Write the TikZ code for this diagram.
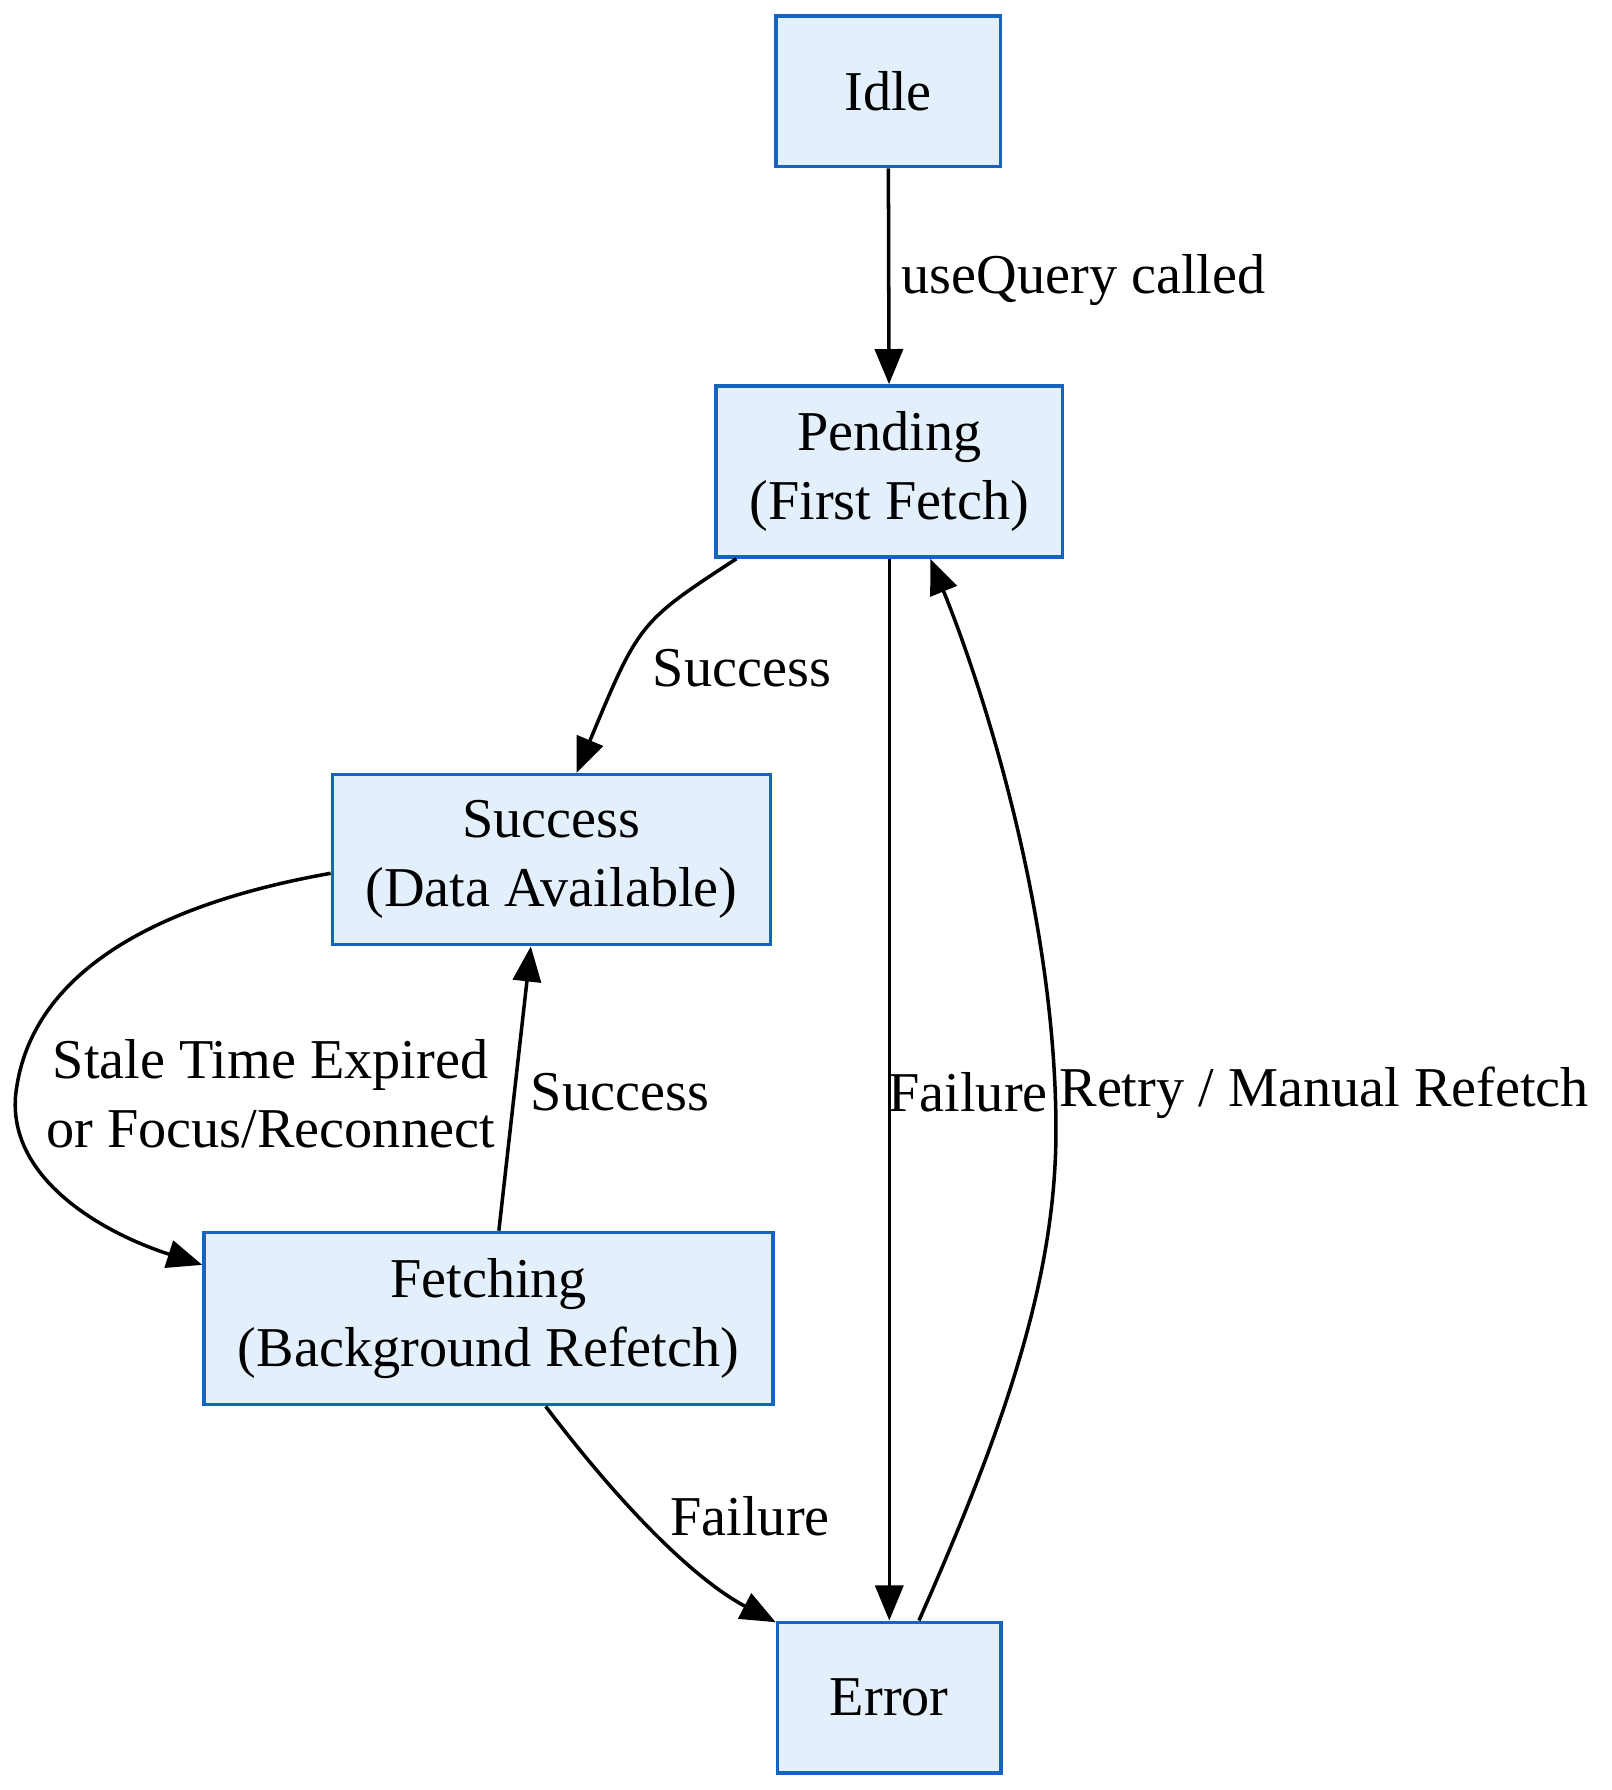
\documentclass[tikz,border=0pt]{standalone}
\usepackage{fontspec}
\setmainfont{Liberation Serif}
\usetikzlibrary{arrows.meta,positioning,calc}
\definecolor{stfill}{HTML}{E3F0FB}
\definecolor{stdraw}{HTML}{1565C0}

\begin{document}
\begin{tikzpicture}[x=0.011416cm, y=-0.011416cm, ->, >={Triangle[length=10pt,width=8pt]}, semithick, line width=1pt,
  font=\fontsize{16}{19.5}\selectfont]
\tikzstyle{state}=[rectangle,fill=stfill,draw=stdraw,line width=1pt,align=center,inner sep=0pt]
\tikzstyle{lbl}=[draw=none,fill=none,align=center]
\useasboundingbox (0,0) rectangle (1412,1568);
\node[state, minimum width=197*0.3245pt, minimum height=132*0.3245pt] (idle)  at (778,80)   {Idle};
\node[state, minimum width=304*0.3245pt, minimum height=150*0.3245pt] (pend)  at (779,413)  {Pending\\(First Fetch)};
\node[state, minimum width=384*0.3245pt, minimum height=149*0.3245pt] (succ)  at (483,753)  {Success\\(Data Available)};
\node[state, minimum width=499*0.3245pt, minimum height=151*0.3245pt] (fetch) at (428,1155) {Fetching\\(Background Refetch)};
\node[state, minimum width=196*0.3245pt, minimum height=132*0.3245pt] (err)   at (779,1487) {Error};
\draw (idle) -- (pend);
\node[lbl, anchor=west] (l1) at (778,245) {useQuery called};
\draw (pend.south west -| 645,0) .. controls (560,545) .. (succ.north -| 505,0);
\node[lbl] (l2) at (650,585) {Success};
\draw (pend) -- (err);
\node[lbl] (l3) at (848,957) {Failure};
\draw (err.north -| 805,0) .. controls (880,1250) and (925,1120) .. (925,990) .. controls (925,800) and (860,600) .. (pend.south -| 815,0);
\node[lbl] (l4) at (1160,957) {Retry / Manual Refetch};
\draw (succ.west |- 0,765) .. controls (120,795) and (30,860) .. (15,950) .. controls (0,1030) and (90,1080) .. (fetch.west |- 0,1108);
\node[lbl] (l5) at (237,958) {Stale Time Expired\\or Focus/Reconnect};
\draw (fetch.north -| 437,0) -- (succ.south -| 465,0);
\node[lbl] (l6) at (543,957) {Success};
\draw (fetch.south -| 478,0) .. controls (560,1340) and (620,1390) .. (err.west |- 0,1421);
\node[lbl] (l7) at (657,1328) {Failure};
\end{tikzpicture}
\end{document}
